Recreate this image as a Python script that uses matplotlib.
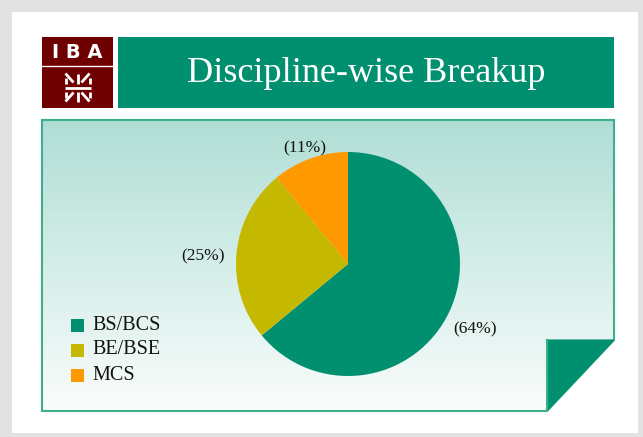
import numpy as np
import matplotlib
matplotlib.use("Agg")
import matplotlib.pyplot as plt
from matplotlib.patches import Rectangle, Polygon

# ---- data ----
title = "Discipline-wise Breakup"
categories = ["BS/BCS", "BE/BSE", "MCS"]
values = [64, 25, 11]
pct_labels = ["(64%)", "(25%)", "(11%)"]
colors = ["#009070", "#c4b900", "#ff9900"]
label_dist = [1.25, 1.30, 1.15]

W, H = 643, 437
fig = plt.figure(figsize=(W / 100, H / 100), dpi=100)
fig.patch.set_facecolor("#e2e2e2")

bg = fig.add_axes([0, 0, 1, 1])
bg.set_xlim(0, W)
bg.set_ylim(H, 0)
bg.axis("off")

serif = ["Liberation Serif", "DejaVu Serif"]

# white page
bg.add_patch(Rectangle((12, 12), 626, 421, facecolor="white", edgecolor="none"))

# logo
bg.add_patch(Rectangle((42, 37), 71, 71, facecolor="#6e0000", edgecolor="none"))
bg.plot([42, 113], [66, 66], color="white", lw=1)
bg.text(77.5, 52, "I B A", color="white", fontsize=14, fontweight="heavy",
        ha="center", va="center", family="DejaVu Sans")
cx, cy = 77.5, 87.5
sym = dict(color="white", lw=2.0, solid_capstyle="butt")
bg.plot([cx - 13, cx + 13], [cy, cy], **sym)
bg.plot([cx, cx], [cy - 14, cy - 4], **sym)
bg.plot([cx, cx], [cy + 4, cy + 14], **sym)
for sx in (-1, 1):
    for sy in (-1, 1):
        bg.plot([cx + sx * 12, cx + sx * 4], [cy + sy * 14, cy + sy * 5], **sym)
        bg.plot([cx + sx * 12, cx + sx * 12], [cy + sy * 4, cy + sy * 10], **sym)

# title band
bg.add_patch(Rectangle((118, 37), 496, 71, facecolor="#009070", edgecolor="none"))
bg.text(366, 73, title, color="white", fontsize=26, ha="center", va="center",
        family=serif)

# panel with gradient and folded corner
pts = [(42, 120), (614, 120), (614, 340), (547, 411), (42, 411)]
grad = np.linspace(0, 1, 256).reshape(-1, 1)
top = np.array([176, 222, 213]) / 255
bot = np.array([250, 253, 252]) / 255
img = top[None, None, :] * (1 - grad[:, :, None]) + bot[None, None, :] * grad[:, :, None]
im = bg.imshow(img, extent=(42, 614, 411, 120), aspect="auto", zorder=1)
bg.add_patch(Polygon(pts, closed=True, facecolor="none", edgecolor="#3daf8c",
                     lw=1.5, zorder=3))
im.set_clip_path(Polygon(pts, closed=True, transform=bg.transData))
bg.add_patch(Polygon([(547, 340), (614, 340), (547, 411)], closed=True,
                     facecolor="#009070", edgecolor="#009070", lw=0.8, zorder=4))
bg.plot([547, 547], [340, 411], color="#3daf8c", lw=1.5, zorder=5)

# pie
r = 112
pcx, pcy = 348, 264
ax = fig.add_axes([(pcx - r) / W, (H - pcy - r) / H, 2 * r / W, 2 * r / H])
ax.set_zorder(2)
wedges, _ = ax.pie(values, colors=colors, startangle=90, counterclock=False,
                   wedgeprops=dict(linewidth=0))
ax.set_xlim(-1, 1)
ax.set_ylim(-1, 1)
ax.set_aspect("equal")
for w, lab, d in zip(wedges, pct_labels, label_dist):
    th = np.deg2rad((w.theta1 + w.theta2) / 2)
    ax.text(d * np.cos(th), d * np.sin(th) - 0.05, lab, ha="center", va="center",
            fontsize=12.5, family=serif, color="#111111", clip_on=False)

# legend
for i, (c, lab) in enumerate(zip(colors, categories)):
    y = 325 + i * 25
    bg.add_patch(Rectangle((71, y - 6.5), 13, 13, facecolor=c, edgecolor="none", zorder=5))
    bg.text(92, y, lab, ha="left", va="center", fontsize=14.5, family=serif,
            color="#111111", zorder=5)

fig.savefig("out.png", dpi=100, facecolor=fig.get_facecolor())
